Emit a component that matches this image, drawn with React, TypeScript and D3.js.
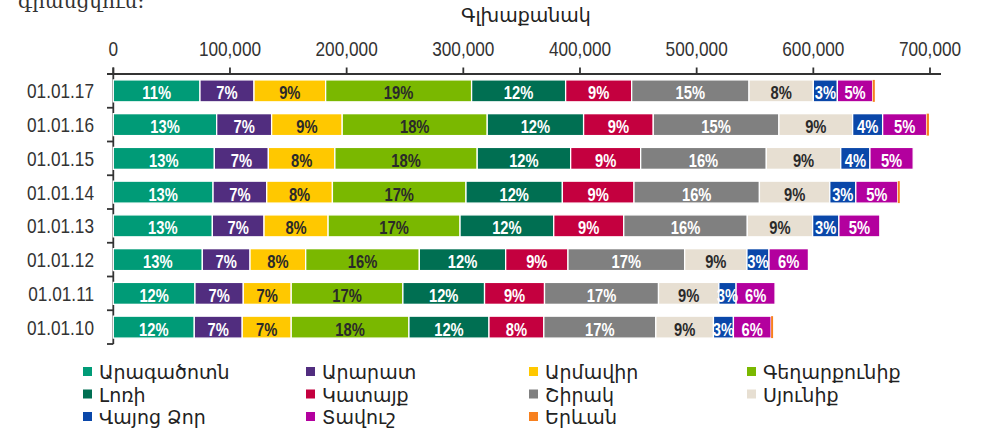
import React from "react";
import * as d3 from "d3";

// Reporting dates (top to bottom)
const dates = ["01.01.17", "01.01.16", "01.01.15", "01.01.14", "01.01.13", "01.01.12", "01.01.11", "01.01.10"];

// Regions in stacking order
const regions = [
  "Արագածոտն", "Արարատ", "Արմավիր", "Գեղարքունիք",
  "Լոռի", "Կատայք", "Շիրակ", "Սյունիք",
  "Վայոց Ձոր", "Տավուշ", "Երևան",
];

// Head count per region, one value per date (same order as `dates`)
const aragatsotn = [74300, 88600, 86600, 85500, 84900, 76300, 70000, 69400];
const ararat = [46300, 47100, 46300, 46000, 44300, 40900, 41400, 41100];
const armavir = [61400, 60500, 57000, 56300, 54900, 47700, 41100, 42000];
const gegharkunik = [125100, 124300, 122000, 114500, 113100, 97400, 95700, 100900];
const lori = [80600, 82600, 80100, 82600, 80300, 74000, 70000, 68600];
const kotayk = [56600, 59700, 60000, 61400, 60000, 53400, 51400, 47000];
const shirak = [100600, 107700, 107700, 107500, 105900, 100000, 97700, 96000];
const syunik = [55100, 63200, 63800, 60300, 56000, 53400, 51700, 49400];
const vayotsDzor = [20600, 25700, 25000, 22300, 22500, 18900, 14800, 17100];
const tavush = [30300, 37700, 37100, 36000, 35100, 33800, 33400, 32300];
const yerevan = [1800, 2000, 0, 1700, 0, 0, 0, 1700];

const seriesValues = [
  aragatsotn, ararat, armavir, gegharkunik, lori, kotayk,
  shirak, syunik, vayotsDzor, tavush, yerevan,
];

const colors = [
  "#009B77", "#512D7F", "#FFC800", "#7AB800", "#006F52", "#C4003F",
  "#808080", "#E7DFD2", "#0A47A9", "#B3009E", "#F7801E",
];
const darkLabel = new Set(["Արմավիր", "Գեղարքունիք", "Սյունիք"]);

const xTicks = [0, 100000, 200000, 300000, 400000, 500000, 600000, 700000];

const W = 984;
const H = 433;

const sans = "'Liberation Sans', Arial, sans-serif";
const armenian = "'DejaVu Sans', sans-serif";
const SQUEEZE = 0.82; // horizontal condensing to get a narrow face

function NarrowText(props: {
  x: number;
  y: number;
  anchor?: "start" | "middle" | "end";
  size: number;
  bold?: boolean;
  fill: string;
  children: React.ReactNode;
}) {
  return (
    <g transform={`translate(${props.x},${props.y}) scale(${SQUEEZE},1)`}>
      <text
        x={0}
        y={0}
        textAnchor={props.anchor ?? "start"}
        fontFamily={sans}
        fontSize={props.size}
        fontWeight={props.bold ? "bold" : "normal"}
        fill={props.fill}
      >
        {props.children}
      </text>
    </g>
  );
}

export default function App() {
  const rows = dates.map((d, i) => {
    const row: Record<string, any> = { date: d };
    regions.forEach((r, k) => (row[r] = seriesValues[k][i]));
    return row;
  });
  const totals = dates.map((_, i) => d3.sum(seriesValues, (s) => s[i]));

  const stack = d3.stack<any>().keys(regions);
  const layers = stack(rows);

  const x = d3.scaleLinear().domain([0, 700000]).range([113.3, 930]);
  const y = d3.scaleBand<string>().domain(dates).range([74, 344]).paddingInner(0.35).paddingOuter(0.175);
  const fmt = d3.format(",");
  const axisColor = "#333";

  const legendCols = [83, 306, 529, 747];
  const legendRows = [371.5, 394, 416.5];

  return (
    <div style={{ position: "absolute", left: 0, top: 0 }}>
      <svg width={W} height={H} style={{ display: "block", background: "#fff" }}>
        {/* running text above the figure */}
        <text x={18} y={8} fontFamily="'DejaVu Serif', serif" fontSize={20} fill="#333">
          գրանցվում։
        </text>

        {/* axis title */}
        <text x={526} y={22} textAnchor="middle" fontFamily={armenian} fontSize={19} fill="#222">
          Գլխաքանակ
        </text>

        {/* top value axis */}
        <g>
          <line x1={107} x2={941} y1={74} y2={74} stroke={axisColor} strokeWidth={1.8} />
          {xTicks.map((t) => (
            <g key={t}>
              <line x1={x(t)} x2={x(t)} y1={67.5} y2={74} stroke={axisColor} strokeWidth={1.8} />
              <NarrowText x={x(t)} y={55.5} anchor="middle" size={21} fill="#333">
                {fmt(t)}
              </NarrowText>
            </g>
          ))}
        </g>

        {/* category axis */}
        <g>
          <line x1={x(0)} x2={x(0)} y1={67.5} y2={344} stroke={axisColor} strokeWidth={1.8} />
          {d3.range(dates.length + 1).map((i) => {
            const yy = 74 + i * y.step();
            return <line key={i} x1={107} x2={x(0)} y1={yy} y2={yy} stroke={axisColor} strokeWidth={1.8} />;
          })}
          {dates.map((d) => (
            <NarrowText
              key={d}
              x={94}
              y={(y(d) ?? 0) + y.bandwidth() / 2 + 7.5}
              anchor="end"
              size={21}
              fill="#333"
            >
              {d}
            </NarrowText>
          ))}
        </g>

        {/* stacked bars */}
        {layers.map((layer, k) => (
          <g key={layer.key}>
            {layer.map((seg, i) => {
              const x0 = x(seg[0]);
              const x1 = x(seg[1]);
              const w = x1 - x0;
              if (w <= 0) return null;
              const yy = y(dates[i]) ?? 0;
              return (
                <rect
                  key={i}
                  x={x0}
                  y={yy}
                  width={w}
                  height={y.bandwidth()}
                  fill={colors[k]}
                  stroke="#fff"
                  strokeWidth={k === colors.length - 1 ? 0 : 1.3}
                />
              );
            })}
          </g>
        ))}

        {/* percentage labels */}
        {layers.map((layer, k) => (
          <g key={"l" + layer.key}>
            {layer.map((seg, i) => {
              const v = seg[1] - seg[0];
              const x0 = x(seg[0]);
              const x1 = x(seg[1]);
              if (x1 - x0 < 10) return null;
              const pct = Math.round((v / totals[i]) * 100);
              const yy = y(dates[i]) ?? 0;
              return (
                <NarrowText
                  key={i}
                  x={(x0 + x1) / 2}
                  y={yy + y.bandwidth() - 2.5}
                  anchor="middle"
                  size={18}
                  bold
                  fill={darkLabel.has(layer.key) ? "#2a2a2a" : "#fff"}
                >
                  {pct + "%"}
                </NarrowText>
              );
            })}
          </g>
        ))}

        {/* legend */}
        {regions.map((r, k) => {
          const col = k % 4;
          const row = Math.floor(k / 4);
          const lx = legendCols[col];
          const ly = legendRows[row];
          return (
            <g key={r}>
              <rect x={lx} y={ly - 4.5} width={9} height={9} fill={colors[k]} />
              <text x={lx + 16} y={ly} dy="0.42em" fontFamily={armenian} fontSize={19} fill="#222">
                {r}
              </text>
            </g>
          );
        })}
      </svg>
    </div>
  );
}
